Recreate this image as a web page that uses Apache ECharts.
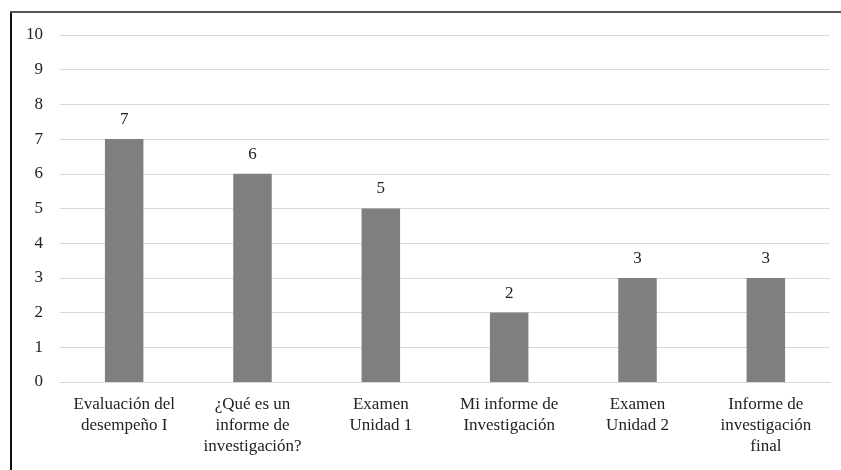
<!DOCTYPE html>
<html><head><meta charset="utf-8">
<script src="https://cdn.jsdelivr.net/npm/echarts@6/dist/echarts.min.js"></script>
<style>html,body{margin:0;padding:0;background:#fff}#c{width:841px;height:470px}</style>
</head><body><div id="c"></div>
<script>
const categories = ["Evaluación del\ndesempeño I", "¿Qué es un\ninforme de\ninvestigación?", "Examen\nUnidad 1", "Mi informe de\nInvestigación", "Examen\nUnidad 2", "Informe de\ninvestigación\nfinal"];
const values = [7, 6, 5, 2, 3, 3];
const yTicks = [0, 10, 1];

const chart = echarts.init(document.getElementById('c'));
const font = '"Liberation Serif", "Times New Roman", serif';
chart.setOption({
  animation: false,
  backgroundColor: '#fff',
  graphic: [
    {type: 'line', shape: {x1: 11, y1: 11, x2: 11, y2: 475}, style: {stroke: '#111', lineWidth: 2}},
    {type: 'line', shape: {x1: 10, y1: 12, x2: 845, y2: 12}, style: {stroke: '#555', lineWidth: 2}}
  ],
  grid: {left: 60, right: 11, top: 35, bottom: 88},
  xAxis: {
    type: 'category', data: categories,
    axisLine: {lineStyle: {color: '#d9d9d9'}},
    axisTick: {show: false},
    axisLabel: {fontFamily: font, fontSize: 17, color: '#222', lineHeight: 21, margin: 12, interval: 0}
  },
  yAxis: {
    type: 'value', min: yTicks[0], max: yTicks[1], interval: yTicks[2],
    axisLine: {show: false}, axisTick: {show: false},
    splitLine: {lineStyle: {color: '#d9d9d9'}},
    axisLabel: {fontFamily: font, fontSize: 17, color: '#222', margin: 17}
  },
  series: [{
    type: 'bar', data: values, barWidth: '30%',
    itemStyle: {color: '#7f7f7f'},
    label: {show: true, position: 'top', distance: 11, fontFamily: font, fontSize: 17, color: '#222'}
  }]
});
</script></body></html>
